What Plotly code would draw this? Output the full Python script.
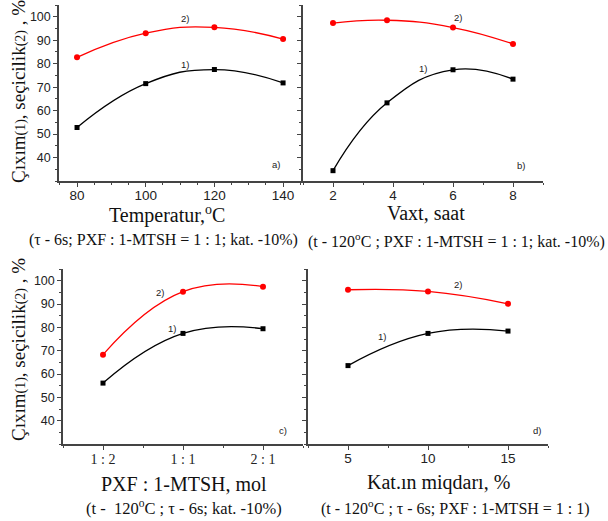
import plotly.graph_objects as go

W, H = 608, 521

# ---- data ----
temp_x = [80, 100, 120, 140]
temp_yield = [52.8, 71.5, 77.5, 71.8]
temp_select = [82.7, 93.0, 95.5, 90.5]

time_x = [2, 3.8, 6, 8]
time_yield = [34.4, 63.3, 77.4, 73.4]
time_select = [97.3, 98.5, 95.4, 88.4]

ratio_labels = ["1 : 2", "1 : 1", "2 : 1"]
ratio_pos = [1, 2, 3]
ratio_yield = [56.1, 77.4, 79.4]
ratio_select = [68.3, 95.3, 97.4]

cat_x = [5, 10, 15]
cat_yield = [63.6, 77.4, 78.4]
cat_select = [96.1, 95.4, 90.1]

SERIF = "Liberation Serif, Times New Roman, serif"
SANS = "Liberation Sans, Arial, sans-serif"

def px(x):
    return x / W

def py(y):
    return 1 - y / H

fig = go.Figure()

panels = [
    ("x", "y", temp_x, temp_yield, temp_select),
    ("x2", "y2", time_x, time_yield, time_select),
    ("x3", "y3", ratio_pos, ratio_yield, ratio_select),
    ("x4", "y4", cat_x, cat_yield, cat_select),
]
for xa, ya, xs, y1, y2 in panels:
    fig.add_trace(go.Scatter(x=xs, y=y2, xaxis=xa, yaxis=ya, mode="lines+markers",
                             line=dict(color="#ff0000", width=1.3, shape="spline", smoothing=1.3),
                             marker=dict(symbol="circle", size=6, color="#ff0000"),
                             showlegend=False, hoverinfo="skip"))
    fig.add_trace(go.Scatter(x=xs, y=y1, xaxis=xa, yaxis=ya, mode="lines+markers",
                             line=dict(color="#000000", width=1.3, shape="spline", smoothing=1.3),
                             marker=dict(symbol="square", size=5, color="#000000"),
                             showlegend=False, hoverinfo="skip"))

axis_common = dict(showline=True, linecolor="#444444", linewidth=1.5, showgrid=False,
                   zeroline=False, ticks="outside", ticklen=4, tickwidth=1, tickcolor="#444444",
                   mirror=False)

top_dom = [py(181), py(5)]
bot_dom = [py(444), py(269)]

yaxis_kw = dict(axis_common, range=[30, 105], tickvals=[40, 50, 60, 70, 80, 90, 100],
                minor=dict(ticks="outside", ticklen=2.5, dtick=5, tick0=0, tickcolor="#444444"),
                tickfont=dict(family=SANS, size=12.5, color="#222"))

xtick_kw = dict(ticklabelstandoff=-3)

fig.update_layout(
    width=W, height=H, margin=dict(l=0, r=0, t=0, b=0),
    paper_bgcolor="white", plot_bgcolor="white",
    xaxis=dict(axis_common, **xtick_kw, domain=[px(59), px(303)], range=[74.75, 145.8], anchor="y",
               tickvals=[80, 100, 120, 140],
               minor=dict(ticks="outside", ticklen=2.5, dtick=5, tick0=0, tickcolor="#444444"),
               tickfont=dict(family=SANS, size=13.5, color="#222")),
    yaxis=dict(yaxis_kw, domain=top_dom, anchor="x"),
    xaxis2=dict(axis_common, **xtick_kw, domain=[px(303), px(543)], range=[1, 9], anchor="y2",
                tickvals=[2, 4, 6, 8],
                minor=dict(ticks="outside", ticklen=2.5, dtick=1, tick0=0, tickcolor="#444444"),
                tickfont=dict(family=SANS, size=13.5, color="#222")),
    yaxis2=dict(yaxis_kw, domain=top_dom, anchor="x2", showticklabels=False),
    xaxis3=dict(axis_common, **xtick_kw, domain=[px(63), px(303)], range=[0.5, 3.5], anchor="y3",
                tickvals=ratio_pos, ticktext=ratio_labels,
                minor=dict(ticks="outside", ticklen=2.5, dtick=1, tick0=0.5, tickcolor="#444444"),
                tickfont=dict(family=SERIF, size=14, color="#222")),
    yaxis3=dict(yaxis_kw, domain=bot_dom, anchor="x3"),
    xaxis4=dict(axis_common, **xtick_kw, domain=[px(308), px(548)], range=[2.5, 17.5], anchor="y4",
                tickvals=[5, 10, 15],
                minor=dict(ticks="outside", ticklen=2.5, dtick=2.5, tick0=0, tickcolor="#444444"),
                tickfont=dict(family=SANS, size=13.5, color="#222")),
    yaxis4=dict(yaxis_kw, domain=bot_dom, anchor="x4", showticklabels=False),
)

ann = []
# curve labels
lab = [
    ("x", "y", 111.5, 99.2, "2)"), ("x", "y", 111.5, 79.5, "1)"), ("x", "y", 138, 37, "a)"),
    ("x2", "y2", 6.15, 99.8, "2)"), ("x2", "y2", 5.0, 78.0, "1)"), ("x2", "y2", 8.25, 36.5, "b)"),
    ("x3", "y3", 1.71, 95.0, "2)"), ("x3", "y3", 1.86, 79.5, "1)"), ("x3", "y3", 3.25, 36, "c)"),
    ("x4", "y4", 11.9, 98.2, "2)"), ("x4", "y4", 7.1, 76.0, "1)"), ("x4", "y4", 16.8, 36, "d)"),
]
for xa, ya, x, y, t in lab:
    ann.append(dict(xref=xa, yref=ya, x=x, y=y, text=t, showarrow=False,
                    font=dict(family=SANS, size=9.5, color="#222")))

ytitle = ("Çıxım<span style='font-size:14px'>(1)</span>, seçicilik"
          "<span style='font-size:14px'>(2)</span> , %")
for cy in (92, 350):
    ann.append(dict(xref="paper", yref="paper", x=px(18), y=py(cy), text=ytitle,
                    textangle=-90, showarrow=False, xanchor="center", yanchor="middle",
                    font=dict(family=SERIF, size=19, color="#111")))

texts = [
    (167, 214, "Temperatur,<sup>o</sup>C", 20),
    (426, 213, "Vaxt, saat", 20),
    (184, 484, "PXF : 1-MTSH, mol", 20),
    (438, 482, "Kat.ın miqdarı, %", 20),
    (163, 240, "(τ - 6s; PXF : 1-MTSH = 1 : 1; kat. -10%)", 16),
    (456, 240, "(t - 120<sup>o</sup>C ; PXF : 1-MTSH = 1 : 1; kat. -10%)", 16),
    (184, 507, "(t -  120<sup>o</sup>C ; τ - 6s; kat. -10%)", 16.5),
    (455, 507, "(t - 120<sup>o</sup>C ; τ - 6s; PXF : 1-MTSH = 1 : 1)", 16),
]
for x, y, t, s in texts:
    ann.append(dict(xref="paper", yref="paper", x=px(x), y=py(y), text=t, showarrow=False,
                    xanchor="center", yanchor="middle",
                    font=dict(family=SERIF, size=s, color="#111")))

fig.update_layout(annotations=ann)
fig.write_html("out.html", config={"displayModeBar": False},
               post_script="document.body.style.margin='0';")
